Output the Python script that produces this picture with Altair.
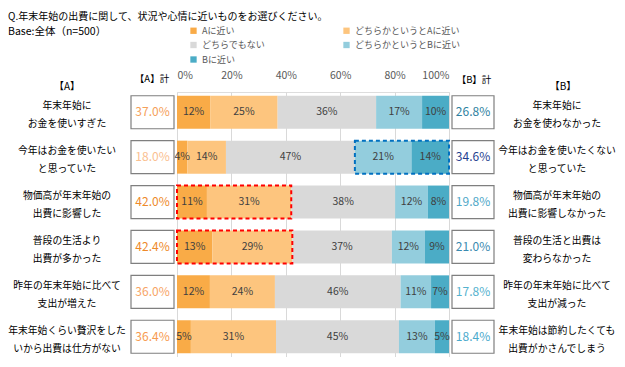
import altair as alt
import pandas as pd

FONT = "Noto Sans CJK JP"

rows = ["r1", "r2", "r3", "r4", "r5", "r6"]
left_labels = [
    "年末年始に\nお金を使いすぎた",
    "今年はお金を使いたい\nと思っていた",
    "物価高が年末年始の\n出費に影響した",
    "普段の生活より\n出費が多かった",
    "昨年の年末年始に比べて\n支出が増えた",
    "年末年始くらい贅沢をした\nいから出費は仕方がない",
]
right_labels = [
    "年末年始に\nお金を使わなかった",
    "今年はお金を使いたくない\nと思っていた",
    "物価高が年末年始の\n出費に影響しなかった",
    "普段の生活と出費は\n変わらなかった",
    "昨年の年末年始に比べて\n支出が減った",
    "年末年始は節約したくても\n出費がかさんでしまう",
]
series = ["Aに近い", "どちらかというとAに近い", "どちらでもない", "どちらかというとBに近い", "Bに近い"]
v_A = [12.2, 3.8, 11.0, 13.0, 12.1, 5.1]
v_a = [24.8, 14.2, 31.0, 29.4, 23.9, 31.3]
v_N = [36.2, 47.4, 38.2, 36.6, 46.2, 45.2]
v_b = [16.9, 20.8, 12.0, 12.1, 11.2, 13.2]
v_B = [9.9, 13.8, 7.8, 8.9, 6.6, 5.2]

series_colors = ["#F9AB47", "#FDC57E", "#D9D9D9", "#93CDDD", "#4BACC6"]
a_total_colors = ["#F5A05A", "#FAC090", "#EE8A2A", "#EE8A2A", "#F7A465", "#F79A4E"]
b_total_colors = ["#2E7FA0", "#1F3F8F", "#4FA8C8", "#3A8AB0", "#55B2CE", "#4BAACC"]

# legend lays entries out column by column: this order gives the reference's grid
legend_order = [0, 2, 4, 1, 3]

highlight_rows = ["r2", "r3", "r4"]
highlight_side = ["B", "A", "A"]
highlight_colors = ["#0070C0", "#FF0000", "#FF0000"]

title_line1 = "Q.年末年始の出費に関して、状況や心情に近いものをお選びください。"
title_line2 = "Base:全体（n=500）"

# ---- tables
vals = [v_A, v_a, v_N, v_b, v_B]
long_rows = []
for i, r in enumerate(rows):
    for k, s in enumerate(series):
        long_rows.append({"row": r, "series": s, "idx": k, "value": vals[k][i]})
long_df = pd.DataFrame(long_rows)

tot_df = pd.DataFrame({
    "row": rows,
    "left": left_labels,
    "right": right_labels,
    "a_tot": [round(v_A[i] + v_a[i], 1) for i in range(6)],
    "b_tot": [round(v_b[i] + v_B[i], 1) for i in range(6)],
    "a_col": a_total_colors,
    "b_col": b_total_colors,
})

hl = []
for r, side, c in zip(highlight_rows, highlight_side, highlight_colors):
    i = rows.index(r)
    if side == "A":
        hl.append({"row": r, "x0": 0.0, "x1": v_A[i] + v_a[i], "color": c})
    else:
        hl.append({"row": r, "x0": 100 - (v_b[i] + v_B[i]), "x1": 100.0, "color": c})
hl_df = pd.DataFrame(hl)

one = pd.DataFrame({"_": [0]})

y_enc = alt.Y("row:N", sort=rows, axis=None,
              scale=alt.Scale(paddingInner=0.265, paddingOuter=0.0835))
x_scale = alt.Scale(domain=[0, 100])
x_axis = alt.Axis(orient="top", values=[0, 20, 40, 60, 80, 100],
                  labelExpr="datum.value + '%'", grid=True, gridColor="#D9D9D9",
                  ticks=False, domain=False, labelColor="#595959", labelFontSize=10.5,
                  labelPadding=12, title=None, labelFont=FONT)

stacked = alt.Chart(long_df).transform_stack(
    stack="value", groupby=["row"], sort=[alt.SortField("idx", order="ascending")],
    as_=["x0", "x1"])

bars = stacked.mark_bar().encode(
    x=alt.X("x0:Q", scale=x_scale, axis=x_axis),
    x2="x1:Q",
    y=y_enc,
    color=alt.Color("series:N",
                    scale=alt.Scale(domain=[series[k] for k in legend_order],
                                    range=[series_colors[k] for k in legend_order]),
                    legend=alt.Legend(orient="none", legendX=12, legendY=-66, columns=2,
                                      columnPadding=76, rowPadding=4.5, symbolType="square",
                                      symbolSize=40, symbolStrokeWidth=0, labelFontSize=9,
                                      labelColor="#595959", labelFont=FONT, title=None,
                                      padding=0, labelOffset=4)),
    order=alt.Order("idx:Q"),
)

bar_text = stacked.transform_calculate(
    mid="(datum.x0 + datum.x1) / 2",
    lab="format(round(datum.value), 'd') + '%'",
).mark_text(fontSize=10.5, color="#404040", font=FONT, baseline="middle").encode(
    x=alt.X("mid:Q", scale=x_scale, axis=x_axis),
    y=y_enc,
    text="lab:N",
)

tot = alt.Chart(tot_df).transform_calculate(
    a_lab="format(datum.a_tot, '.1f') + '%'",
    b_lab="format(datum.b_tot, '.1f') + '%'",
)

box_a = tot.mark_rect(fill="white", stroke="#7F7F7F", strokeWidth=1.2).encode(
    x=alt.value(-46), x2=alt.value(-3), y=y_enc)
box_b = tot.mark_rect(fill="white", stroke="#7F7F7F", strokeWidth=1.2).encode(
    x=alt.value(275), x2=alt.value(317), y=y_enc)
txt_a = tot.mark_text(fontSize=12, font=FONT, baseline="middle").encode(
    x=alt.value(-24.5), y=y_enc, text="a_lab:N", color=alt.Color("a_col:N", scale=None))
txt_b = tot.mark_text(fontSize=12, font=FONT, baseline="middle").encode(
    x=alt.value(296), y=y_enc, text="b_lab:N", color=alt.Color("b_col:N", scale=None))

lab_left = tot.mark_text(fontSize=9.8, font=FONT, lineBreak="\n", lineHeight=18, dy=-6,
                         align="center", baseline="middle", color="black").encode(
    x=alt.value(-110), y=y_enc, text="left:N")
lab_right = tot.mark_text(fontSize=9.8, font=FONT, lineBreak="\n", lineHeight=18, dy=-6,
                          align="center", baseline="middle", color="black").encode(
    x=alt.value(380), y=y_enc, text="right:N")

hl_rect = alt.Chart(hl_df).mark_rect(fillOpacity=0, strokeDash=[4, 3], strokeWidth=2).encode(
    x=alt.X("x0:Q", scale=x_scale, axis=x_axis),
    x2="x1:Q",
    y=y_enc,
    stroke=alt.Stroke("color:N", scale=None),
)


def label(text, x, y, size, align="center", baseline="middle", color="black"):
    return alt.Chart(one).mark_text(fontSize=size, font=FONT, align=align,
                                    baseline=baseline, color=color).encode(
        x=alt.value(x), y=alt.value(y), text=alt.value(text))


heads = [
    label(title_line1, -169, -75, 10, align="left"),
    label(title_line2, -169, -60, 10.5, align="left"),
    label("【A】計", -25, -13, 9.5),
    label("【B】計", 297, -12, 9.5),
    label("【A】", -110, -5, 10),
    label("【B】", 386, -5, 10),
]

chart = alt.layer(
    bars, bar_text, hl_rect, box_a, box_b, txt_a, txt_b, lab_left, lab_right, *heads
).properties(
    width=272, height=265,
    autosize=alt.AutoSizeParams(type="none"),
    padding={"left": 169, "top": 84, "right": 168, "bottom": 0},
    background="white",
).configure_view(stroke=None).configure(font=FONT)

chart.save("out.html", embed_options={"renderer": "svg", "actions": False})
